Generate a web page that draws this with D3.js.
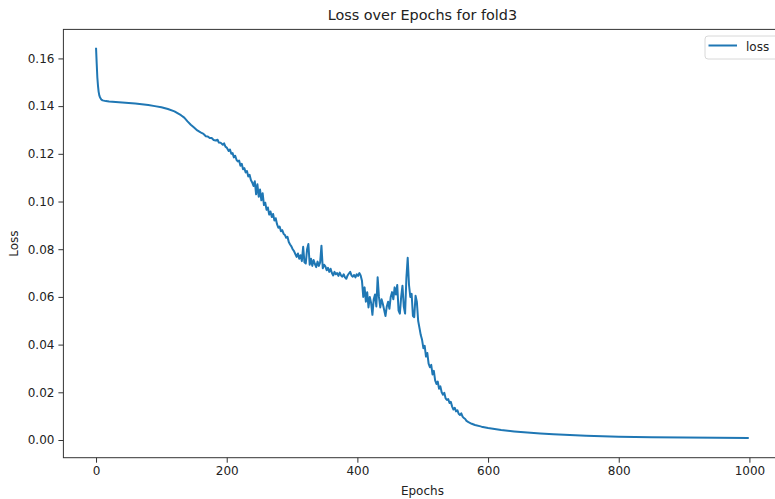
<!DOCTYPE html>
<html><head><meta charset="utf-8">
<script src="https://cdn.jsdelivr.net/npm/d3@7"></script>
<style>body{margin:0;background:#fff;} svg{display:block;font-family:"DejaVu Sans",sans-serif;}</style>
</head><body><svg id="c" width="775" height="499"></svg>
<script>
const title = "Loss over Epochs for fold3";
const xLabel = "Epochs";
const yLabel = "Loss";
const seriesName = "loss";
const xTicks = [0, 200, 400, 600, 800, 1000];
const yTicks = [0.00, 0.02, 0.04, 0.06, 0.08, 0.10, 0.12, 0.14, 0.16];
const epochs = [0,1,2,3,4,5,6,8,10,15,20,30,40,50,60,70,80,90,100,110,120,130,135,140,145,150,
155,160,163,165,168,171,174,177,180,183,186,188,191,194,196,198,200,
203,205,207,209,211,213,215,217,219,221,223,225,227,229,231,233,235,237,239,
241,243,245,247,249,251,253,255,257,259,261,263,265,267,269,271,273,275,277,279,281,283,285,287,289,291,293,295,297,299,
301,303,305,307,309,311,313,315,317,319,321,323,325,327,329,331,333,335,337,339,341,343,345,347,349,351,353,355,357,359,
361,363,365,367,369,371,373,375,377,379,381,383,385,387,389,391,393,395,397,399,
401,403,405,407,409,411,413,415,417,419,421,423,425,427,429,431,433,435,437,439,441,443,445,447,449,451,453,455,457,459,
461,463,465,467,469,471,473,475,477,479,481,483,485,487,489,491,493,495,497,499,
501,503,505,507,509,511,513,515,517,519,521,523,525,527,529,531,533,535,537,539,541,543,545,547,549,551,553,555,557,559,
561,563,565,567,570,575,580,590,600,620,640,660,680,700,750,800,850,900,950,999];
const loss = [0.1645,0.158,0.152,0.1485,0.146,0.1445,0.1437,0.1428,0.1424,0.1421,0.1419,0.1417,0.1415,0.1413,0.1411,0.1408,0.1405,0.14,0.1395,0.1388,0.1378,0.1362,0.1352,0.1336,0.1322,0.1310,
0.1298,0.1290,0.1286,0.1282,0.1274,0.1273,0.1266,0.1266,0.1258,0.1256,0.1259,0.1247,0.1246,0.1238,0.1244,0.1230,0.1226,
0.1212,0.1218,0.12,0.1203,0.1185,0.1192,0.1175,0.1168,0.1172,0.115,0.1158,0.1135,0.114,0.1122,0.1128,0.1105,0.1112,0.109,0.108,
0.1065,0.1085,0.103,0.1072,0.102,0.105,0.1005,0.1035,0.0985,0.0995,0.0965,0.0975,0.0945,0.0958,0.0935,0.0948,0.092,0.093,0.0905,0.089,0.0895,0.0875,0.088,0.0865,0.086,0.0848,0.0852,0.083,0.082,0.0812,
0.08,0.0792,0.078,0.0768,0.0782,0.076,0.0775,0.075,0.081,0.0745,0.074,0.08,0.0822,0.0735,0.076,0.073,0.0755,0.0738,0.0725,0.0748,0.073,0.0745,0.0815,0.072,0.0735,0.0728,0.0712,0.0722,0.0705,0.0718,
0.07,0.069,0.0705,0.0695,0.07,0.0688,0.0702,0.069,0.0685,0.0695,0.0682,0.0676,0.069,0.0698,0.0705,0.069,0.0685,0.0692,0.0682,0.0695,
0.0688,0.07,0.069,0.0668,0.06,0.064,0.058,0.062,0.0556,0.06,0.0575,0.0525,0.059,0.061,0.056,0.0682,0.06,0.0556,0.059,0.057,0.0545,0.052,0.056,0.058,0.055,0.06,0.062,0.059,0.064,0.061,
0.065,0.0543,0.053,0.06,0.0647,0.056,0.053,0.068,0.0764,0.065,0.06,0.0613,0.052,0.0515,0.0605,0.058,0.05,0.047,0.044,0.042,
0.0385,0.0395,0.035,0.0365,0.032,0.0305,0.0315,0.0275,0.029,0.025,0.0235,0.0245,0.0215,0.0225,0.02,0.019,0.0198,0.0175,0.0168,0.0172,0.0155,0.016,0.014,0.0128,0.0135,0.012,0.0125,0.011,0.0105,0.0112,
0.0098,0.0092,0.0088,0.008,0.0075,0.0068,0.0063,0.0056,0.005,0.0042,0.0036,0.0031,0.0027,0.0024,0.0018,0.0014,0.0012,0.001,0.0009,0.0008];

const svg = d3.select("#c");
const L = 63.4, R = 781.4, T = 29.4, B = 457.7;
const x = d3.scaleLinear().domain([-49.95, 1048.95]).range([L, R]);
const y = d3.scaleLinear().domain([-0.00742, 0.17217]).range([B, T]);

const xAxis = svg.append("g").attr("transform", `translate(0,${B})`)
  .call(d3.axisBottom(x).tickValues(xTicks).tickFormat(d3.format("d")).tickSize(5).tickPadding(4));
const yAxis = svg.append("g").attr("transform", `translate(${L},0)`)
  .call(d3.axisLeft(y).tickValues(yTicks).tickFormat(d3.format(".2f")).tickSize(5).tickPadding(4));
[xAxis, yAxis].forEach(a => {
  a.select(".domain").remove();
  a.selectAll("line").attr("stroke", "#333");
  a.selectAll("text").attr("fill", "#222").style("font-size", "12px").style("font-family", "DejaVu Sans");
});
svg.append("rect").attr("x", L).attr("y", T).attr("width", R - L).attr("height", B - T)
  .attr("fill", "none").attr("stroke", "#333").attr("stroke-width", 1);

const pts = epochs.map((e, i) => [e, loss[i]]);
svg.append("path").datum(pts)
  .attr("fill", "none").attr("stroke", "#1f77b4").attr("stroke-width", 2)
  .attr("stroke-linejoin", "round")
  .attr("d", d3.line().x(d => x(d[0])).y(d => y(d[1])));

svg.append("text").attr("x", (L + R) / 2).attr("y", 20).attr("text-anchor", "middle")
  .style("font-size", "14.4px").attr("fill", "#222").text(title);
svg.append("text").attr("x", (L + R) / 2).attr("y", 495).attr("text-anchor", "middle")
  .style("font-size", "12px").attr("fill", "#222").text(xLabel);
svg.append("text").attr("transform", `translate(18,${(T + B) / 2}) rotate(-90)`).attr("text-anchor", "middle")
  .style("font-size", "12px").attr("fill", "#222").text(yLabel);

const lg = svg.append("g");
lg.append("rect").attr("x", 705).attr("y", 36).attr("width", 90).attr("height", 23).attr("rx", 3)
  .attr("fill", "#fff").attr("stroke", "#d8d8d8");
lg.append("line").attr("x1", 708.5).attr("x2", 737).attr("y1", 45.5).attr("y2", 45.5)
  .attr("stroke", "#1f77b4").attr("stroke-width", 2);
lg.append("text").attr("x", 746).attr("y", 50.5).style("font-size", "12px").attr("fill", "#222").text(seriesName);
</script></body></html>
